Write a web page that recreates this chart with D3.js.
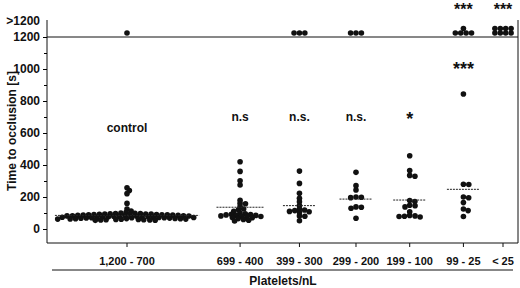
<!DOCTYPE html>
<html>
<head>
<meta charset="utf-8">
<script src="https://cdn.jsdelivr.net/npm/d3@7"></script>
<style>
  body { margin: 0; background: #fff; }
  text { font-family: "Liberation Sans", Arial, sans-serif; font-weight: bold; fill: #111; }
</style>
</head>
<body>
<svg id="chart" width="520" height="288"></svg>
<script>
// categories on the x axis and their slot positions (axis units)
const categories = ["1,200 - 700", "699 - 400", "399 - 300", "299 - 200", "199 - 100", "99 - 25", "< 25"];
const slots = [0, 2, 3.05, 4.05, 5, 5.95, 6.65];

// time to occlusion [s] per group (values <= 1200)
const controlValues = [258, 240, 221, 160, 125, 112, 104,
  96, 62, 88, 74, 55, 91, 68, 79, 84, 58, 93, 72, 66, 87, 77, 60, 98, 70, 82, 64,
  89, 75, 57, 95, 69, 80, 86, 63, 73, 92, 78, 56, 85, 67, 94, 71, 61, 83, 76, 59,
  90, 65, 81, 97, 72, 62, 88, 74, 99, 64, 87, 70, 58, 93, 76, 82, 54, 91];
const values699 = [420, 360, 302, 275, 180, 160, 158, 140, 125, 120, 110, 100, 95, 92,
  90, 88, 85, 85, 82, 80, 78, 75, 72, 70, 65, 60, 55, 50];
const values399 = [362, 285, 223, 192, 170, 146, 125, 119, 115, 110, 108, 105, 82, 80, 52];
const values299 = [354, 271, 244, 200, 198, 196, 138, 136, 130, 67];
const values199 = [458, 365, 335, 330, 178, 172, 148, 145, 138, 108, 85, 82, 78, 80, 75];
const values99 = [844, 280, 278, 200, 195, 165, 125, 115, 78];
const values25 = [];
const groupValues = [controlValues, values699, values399, values299, values199, values99, values25];

// number of animals with no occlusion (>1200 s)
const over1200Counts = [1, 0, 3, 3, 0, 5, 8];
const overValue = 1225;

// group mean lines
const meanValues = [85, 136, 146, 187, 181, 248, null];

// significance labels and their heights (data units, baseline)
const sigLabels = ["control", "n.s", "n.s.", "n.s.", "*", "***", ""];
const sigHeights = [606, 675, 675, 675, 650, 960, null];
const topLabels = ["", "", "", "", "", "***", "***"];
const topHeight = 1340;

const yTicks = [0, 200, 400, 600, 800, 1000, 1200];
const yMinorTicks = [100, 300, 500, 700, 900, 1100];

const svg = d3.select("#chart");
const plotLeft = 47, plotRight = 518, plotTop = 20, plotBottom = 243;
const r = 2.8, gapX = 5.4, gapY = 3.2;

const y = d3.scaleLinear().domain([0, 1200]).range([229, 37]);
const x = d3.scaleLinear().domain([0, 6.65]).range([127, 503]);

// frame: left axis, bottom axis, right edge, 1200 cut-off line
svg.append("line").attr("x1", plotLeft).attr("x2", plotLeft).attr("y1", plotTop).attr("y2", plotBottom).attr("stroke", "#111");
svg.append("line").attr("x1", plotLeft).attr("x2", plotRight).attr("y1", plotBottom).attr("y2", plotBottom).attr("stroke", "#111");
svg.append("line").attr("x1", plotRight).attr("x2", plotRight).attr("y1", plotTop).attr("y2", plotBottom).attr("stroke", "#111");
svg.append("line").attr("x1", plotLeft).attr("x2", plotRight).attr("y1", y(1200)).attr("y2", y(1200)).attr("stroke", "#111");

// y axis
const yAxis = svg.append("g").attr("transform", `translate(${plotLeft},0)`)
  .call(d3.axisLeft(y).tickValues(yTicks).tickSize(4).tickPadding(3).tickFormat(d3.format("d")));
yAxis.select(".domain").remove();
yAxis.selectAll("text").style("font-size", "12px").attr("font-family", null);
const yMinor = svg.append("g").attr("transform", `translate(${plotLeft},0)`)
  .call(d3.axisLeft(y).tickValues(yMinorTicks).tickSize(3).tickFormat(""));
yMinor.select(".domain").remove();
svg.append("text").attr("x", plotLeft - 7).attr("y", y(1300) + 4)
  .attr("text-anchor", "end").style("font-size", "12px").text(">1200");

svg.append("text")
  .attr("transform", `translate(16,131) rotate(-90)`)
  .attr("text-anchor", "middle").style("font-size", "12px")
  .text("Time to occlusion [s]");

// x axis
const xg = svg.append("g");
xg.selectAll("line").data(categories).enter().append("line")
  .attr("x1", (d, i) => x(slots[i])).attr("x2", (d, i) => x(slots[i]))
  .attr("y1", plotBottom).attr("y2", plotBottom + 4).attr("stroke", "#111");
xg.selectAll("text").data(categories).enter().append("text")
  .attr("x", (d, i) => x(slots[i])).attr("y", 265)
  .attr("text-anchor", "middle").style("font-size", "11px")
  .text(d => d);
svg.append("line").attr("x1", 52).attr("x2", 513).attr("y1", 270).attr("y2", 270).attr("stroke", "#111");
svg.append("text").attr("x", 283).attr("y", 285).attr("text-anchor", "middle")
  .style("font-size", "12px").text("Platelets/nL");

// beeswarm placement (elliptical collision: dots may overlap more vertically)
function collides(p, cx, cy) {
  const u = (p.x - cx) / gapX, w = (p.y - cy) / gapY;
  return u * u + w * w < 0.999;
}
function swarm(vals, cx) {
  const placed = [];
  vals.slice().sort((a, b) => b - a).forEach(v => {
    const py = y(v);
    const cands = [cx];
    placed.forEach(p => {
      const w = (p.y - py) / gapY;
      if (Math.abs(w) < 1) {
        const dx = gapX * Math.sqrt(1 - w * w) + 0.01;
        cands.push(p.x + dx, p.x - dx);
      }
    });
    cands.sort((a, b) => Math.abs(a - cx) - Math.abs(b - cx));
    const px = cands.find(c => placed.every(p => !collides(p, c, py)));
    placed.push({ x: px, y: py, v });
  });
  return placed;
}

const dots = svg.append("g");
groupValues.forEach((vals, i) => {
  const cx = x(slots[i]);
  const pts = swarm(vals, cx);
  dots.selectAll(null).data(pts).enter().append("circle")
    .attr("cx", d => d.x).attr("cy", d => d.y).attr("r", r).attr("fill", "#111");

  // no-occlusion dots stacked above the cut-off line, max 4 per row
  const n = over1200Counts[i];
  const over = d3.range(n).map(k => {
    const row = Math.floor(k / 4);
    const inRow = Math.min(4, n - row * 4);
    const col = k % 4;
    return { x: cx + (col - (inRow - 1) / 2) * gapX, y: y(overValue) - row * 4.5 };
  });
  dots.selectAll(null).data(over).enter().append("circle")
    .attr("cx", d => d.x).attr("cy", d => d.y).attr("r", r).attr("fill", "#111");

  if (meanValues[i] != null) {
    const ext = d3.extent(pts, d => d.x);
    const hw = Math.max(16.5, Math.max(cx - ext[0], ext[1] - cx) + r);
    svg.append("line")
      .attr("x1", cx - hw).attr("x2", cx + hw)
      .attr("y1", y(meanValues[i])).attr("y2", y(meanValues[i]))
      .attr("stroke", "#222").attr("stroke-width", 1).attr("stroke-dasharray", "2,1");
  }

  if (sigLabels[i]) {
    const star = sigLabels[i].startsWith("*");
    svg.append("text").attr("x", cx).attr("y", y(sigHeights[i]))
      .attr("text-anchor", "middle").style("font-size", star ? "18px" : "12px")
      .text(sigLabels[i]);
  }
  if (topLabels[i]) {
    svg.append("text").attr("x", cx).attr("y", y(topHeight))
      .attr("text-anchor", "middle").style("font-size", "16px")
      .text(topLabels[i]);
  }
});
</script>
</body>
</html>
